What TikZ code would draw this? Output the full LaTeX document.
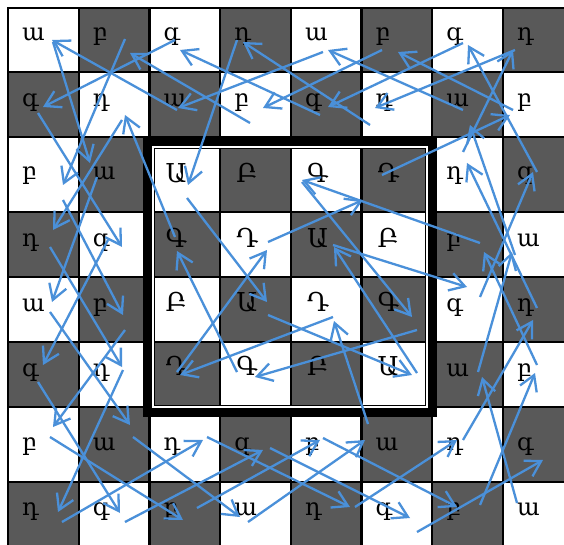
\documentclass[tikz,border=0pt]{standalone}
\usepackage{fontspec}
\newfontfamily\armfont{DejaVu Serif}
\usetikzlibrary{arrows.meta}
\definecolor{cellgrey}{RGB}{89,89,89}
\definecolor{tourblue}{RGB}{74,144,217}
\tikzset{
  lowlet/.style={anchor=base west, inner sep=0pt, font=\armfont\fontsize{24}{24}\selectfont},
  caplet/.style={anchor=base west, inner sep=0pt, font=\armfont\fontsize{26}{26}\selectfont},
  tourarrow/.style={draw=tourblue, line width=2.3pt, -{Straight Barb[length=15pt,width=18pt]}},
  gridline/.style={line width=2.2pt, line cap=rect},
}
\newcommand\rowbase[1]{\ifcase#1\or41\or107\or180\or246\or311\or376\or450\or515\fi}
\newcommand\capbase[1]{\ifcase#1\or0\or0\or183\or247\or311\or375\fi}
\newcommand\lowcell[3]{\node[lowlet] (L#1#2) at ({8+70.7*(#2-1)+14},{\rowbase{#1}}) {#3};}
\newcommand\capcell[3]{\node[caplet] (C#1#2) at ({8+70.7*(#2-1)+16},{\capbase{#1}}) {#3};}
\newcommand\tourmove[3]{\coordinate (s#1) at (#2); \coordinate (e#1) at (#3); \draw[tourarrow] (s#1) -- (e#1);}
\begin{document}
\begin{tikzpicture}[x=1pt,y=-1pt]
\useasboundingbox (0,0) rectangle (564,545);
\clip (0,0) rectangle (564,545);
\fill[white] (0,0) rectangle (564,545);
% cells
\foreach \r/\ya/\yb in {1/8/72,2/72/137,3/137/212,4/212/277,5/277/342,6/342/407,7/407/482,8/482/547}{
 \foreach \c in {1,...,8}{
  \pgfmathsetmacro\xa{8+70.7*(\c-1)}
  \pgfmathsetmacro\xb{\xa+70.7}
  \pgfmathtruncatemacro\parity{mod(\r+\c,2)}
  \ifnum\parity=1 \fill[cellgrey] (\xa,\ya) rectangle (\xb,\yb); \fi
}}
\foreach \i in {0,...,8}{\draw[gridline] ({8+70.7*\i},8) -- ({8+70.7*\i},560);}
\foreach \y in {8,72,137,212,277,342,407,482}{\draw[gridline] (8,\y) -- (580,\y);}
% central frame
\draw[line width=9pt] (147.5,141.5) rectangle (432.5,412.5);
\draw[white, line width=2pt] (153,147) rectangle (427,407);
\draw[line width=1.2pt] (154.6,148.6) rectangle (425.4,405.4);
% outer letters
\lowcell{1}{1}{ա}\lowcell{1}{2}{բ}\lowcell{1}{3}{գ}\lowcell{1}{4}{դ}\lowcell{1}{5}{ա}\lowcell{1}{6}{բ}\lowcell{1}{7}{գ}\lowcell{1}{8}{դ}
\lowcell{2}{1}{գ}\lowcell{2}{2}{դ}\lowcell{2}{3}{ա}\lowcell{2}{4}{բ}\lowcell{2}{5}{գ}\lowcell{2}{6}{դ}\lowcell{2}{7}{ա}\lowcell{2}{8}{բ}
\lowcell{3}{1}{բ}\lowcell{3}{2}{ա}\lowcell{3}{7}{դ}\lowcell{3}{8}{գ}
\lowcell{4}{1}{դ}\lowcell{4}{2}{գ}\lowcell{4}{7}{բ}\lowcell{4}{8}{ա}
\lowcell{5}{1}{ա}\lowcell{5}{2}{բ}\lowcell{5}{7}{գ}\lowcell{5}{8}{դ}
\lowcell{6}{1}{գ}\lowcell{6}{2}{դ}\lowcell{6}{7}{ա}\lowcell{6}{8}{բ}
\lowcell{7}{1}{բ}\lowcell{7}{2}{ա}\lowcell{7}{3}{դ}\lowcell{7}{4}{գ}\lowcell{7}{5}{բ}\lowcell{7}{6}{ա}\lowcell{7}{7}{դ}\lowcell{7}{8}{գ}
\lowcell{8}{1}{դ}\lowcell{8}{2}{գ}\lowcell{8}{3}{բ}\lowcell{8}{4}{ա}\lowcell{8}{5}{դ}\lowcell{8}{6}{գ}\lowcell{8}{7}{բ}\lowcell{8}{8}{ա}
% centre letters
\capcell{3}{3}{Ա}\capcell{3}{4}{Բ}\capcell{3}{5}{Գ}\capcell{3}{6}{Դ}
\capcell{4}{3}{Գ}\capcell{4}{4}{Դ}\capcell{4}{5}{Ա}\capcell{4}{6}{Բ}
\capcell{5}{3}{Բ}\capcell{5}{4}{Ա}\capcell{5}{5}{Դ}\capcell{5}{6}{Գ}
\capcell{6}{3}{Դ}\capcell{6}{4}{Գ}\capcell{6}{5}{Բ}\capcell{6}{6}{Ա}
% tour
\tourmove{1}{517,503}{482,377}
\tourmove{2}{478,372}{512,252}
\tourmove{3}{515,255}{470,125}
\tourmove{4}{463,110}{328,50}
\tourmove{5}{323,52}{178,108}
\tourmove{6}{177,110}{52,40}
\tourmove{7}{53,42}{90,163}
\tourmove{8}{97,177}{52,302}
\tourmove{9}{50,312}{130,425}
\tourmove{10}{133,437}{240,517}
\tourmove{11}{248,522}{365,440}
\tourmove{12}{368,424}{334,321}
\tourmove{13}{333,317}{180,375}
\tourmove{14}{177,372}{267,250}
\tourmove{15}{268,242}{363,200}
\tourmove{16}{382,175}{510,115}
\tourmove{17}{513,110}{398,52}
\tourmove{18}{382,50}{263,108}
\tourmove{19}{250,123}{130,53}
\tourmove{20}{125,39}{63,185}
\tourmove{21}{63,200}{123,315}
\tourmove{22}{125,330}{53,427}
\tourmove{23}{50,437}{183,520}
\tourmove{24}{197,508}{320,440}
\tourmove{25}{323,438}{457,507}
\tourmove{26}{480,505}{535,373}
\tourmove{27}{537,365}{484,252}
\tourmove{28}{480,243}{302,180}
\tourmove{29}{302,182}{412,317}
\tourmove{30}{417,330}{255,377}
\tourmove{31}{237,372}{177,251}
\tourmove{32}{175,237}{125,115}
\tourmove{33}{122,120}{53,230}
\tourmove{34}{50,247}{122,367}
\tourmove{35}{123,370}{58,512}
\tourmove{36}{62,522}{203,440}
\tourmove{37}{207,437}{350,507}
\tourmove{38}{355,507}{457,440}
\tourmove{39}{463,440}{533,320}
\tourmove{40}{537,308}{467,163}
\tourmove{41}{463,152}{513,50}
\tourmove{42}{515,50}{375,108}
\tourmove{43}{370,125}{243,42}
\tourmove{44}{237,40}{188,185}
\tourmove{45}{187,198}{267,302}
\tourmove{46}{268,315}{412,375}
\tourmove{47}{417,373}{334,247}
\tourmove{48}{333,245}{467,287}
\tourmove{49}{480,297}{533,172}
\tourmove{50}{537,172}{468,45}
\tourmove{51}{463,43}{328,107}
\tourmove{52}{320,115}{180,50}
\tourmove{53}{175,40}{43,107}
\tourmove{54}{38,113}{122,247}
\tourmove{55}{108,240}{43,365}
\tourmove{56}{38,382}{120,513}
\tourmove{57}{125,522}{263,450}
\tourmove{58}{270,448}{410,518}
\tourmove{59}{417,532}{543,460}
\end{tikzpicture}
\end{document}
